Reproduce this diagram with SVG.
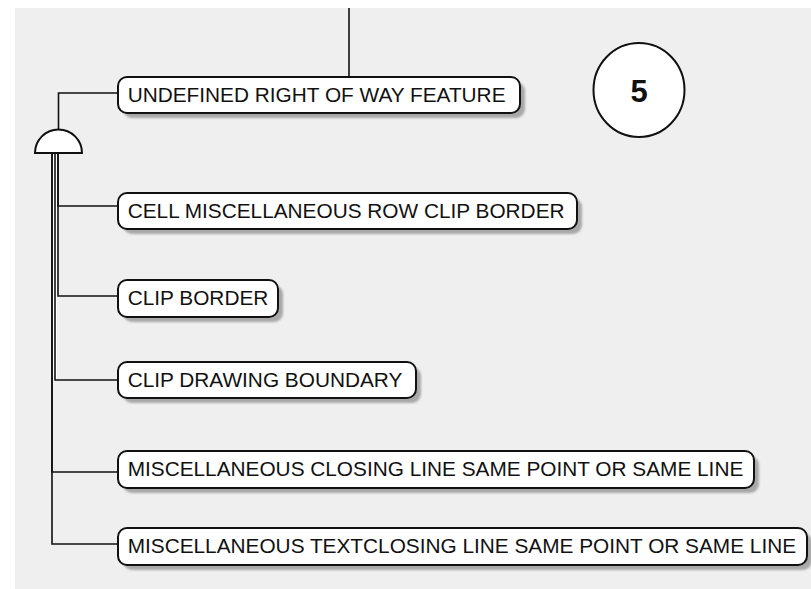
<svg xmlns="http://www.w3.org/2000/svg" width="811" height="589" viewBox="0 0 811 589">
<defs>
<filter id="blur" x="-5%" y="-30%" width="110%" height="160%"><feGaussianBlur stdDeviation="1.2"/></filter>
</defs>
<style>
.box{fill:#fff;stroke:#111;stroke-width:2}
.sh{fill:#a8a8a8;filter:url(#blur)}
.lbl{font-family:"Liberation Sans",Arial,sans-serif;font-size:20.8px;fill:#111}
.con{fill:none;stroke:#111;stroke-width:1.6}
</style>
<rect x="0" y="0" width="811" height="589" fill="#fff"/>
<rect x="15" y="8" width="796" height="581" fill="#efefef"/>
<g id="connectors">
<line class="con" x1="349" y1="8" x2="349" y2="77"/>
<polyline class="con" points="58.5,130 58.5,93 118,93"/>
<rect x="53" y="153" width="4" height="227" fill="#fff"/>
<polyline class="con" points="52,153 52,544 118,544"/>
<polyline class="con" points="52,153 52,472 118,472"/>
<polyline class="con" points="55,153 55,380 118,380"/>
<polyline class="con" points="58,153 58,296 118,296"/>
<polyline class="con" points="58,153 58,206 118,206"/>
</g>
<g id="gate">
<path d="M35,153 A23.5,23.5 0 0 1 82,153 Z" fill="#fff" stroke="#111" stroke-width="2"/>
</g>
<g id="n1">
<rect class="sh" x="123" y="82" width="402" height="36" rx="9"/>
<rect class="box" x="118" y="77" width="402" height="36" rx="9"/>
<text class="lbl" x="127.7" y="101.5">UNDEFINED RIGHT OF WAY FEATURE</text>
</g>
<g id="n2">
<rect class="sh" x="123" y="198" width="459" height="36" rx="9"/>
<rect class="box" x="118" y="193" width="459" height="36" rx="9"/>
<text class="lbl" x="127.7" y="218">CELL MISCELLANEOUS ROW CLIP BORDER</text>
</g>
<g id="n3">
<rect class="sh" x="123" y="285" width="160" height="37" rx="9"/>
<rect class="box" x="118" y="280" width="160" height="37" rx="9"/>
<text class="lbl" x="127.7" y="305">CLIP BORDER</text>
</g>
<g id="n4">
<rect class="sh" x="123" y="367" width="298" height="36" rx="9"/>
<rect class="box" x="118" y="362" width="298" height="36" rx="9"/>
<text class="lbl" x="127.7" y="387">CLIP DRAWING BOUNDARY</text>
</g>
<g id="n5">
<rect class="sh" x="123" y="456" width="636" height="37" rx="9"/>
<rect class="box" x="118" y="451" width="636" height="37" rx="9"/>
<text class="lbl" x="127.7" y="476">MISCELLANEOUS CLOSING LINE SAME POINT OR SAME LINE</text>
</g>
<g id="n6">
<rect class="sh" x="123" y="533" width="689" height="37" rx="9"/>
<rect class="box" x="118" y="528" width="689" height="37" rx="9"/>
<text class="lbl" x="127.7" y="553">MISCELLANEOUS TEXTCLOSING LINE SAME POINT OR SAME LINE</text>
</g>
<g id="badge">
<ellipse cx="639" cy="90" rx="45.5" ry="47" fill="#fff" stroke="#111" stroke-width="2"/>
<text x="639" y="101.5" text-anchor="middle" font-family="Liberation Sans,Arial,sans-serif" font-weight="bold" font-size="31" fill="#111">5</text>
</g>
</svg>
